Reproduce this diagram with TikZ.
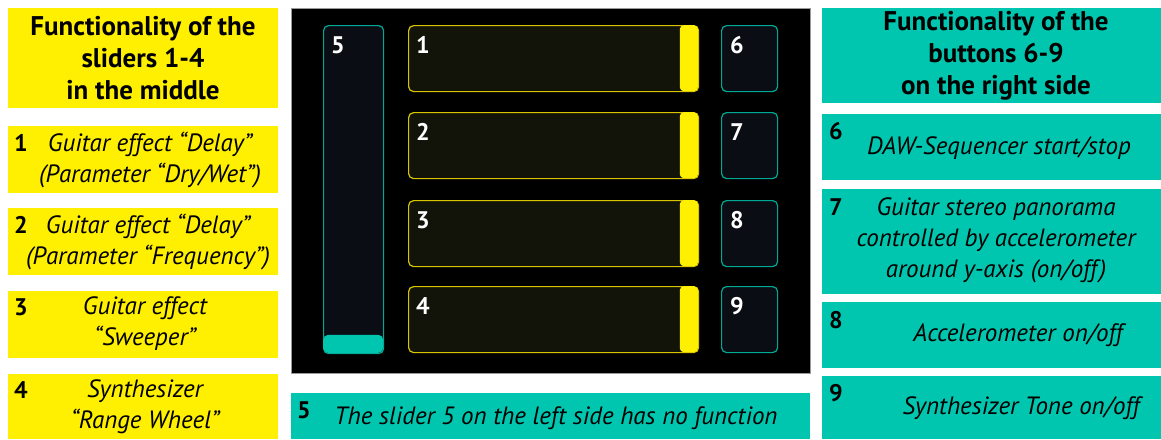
\documentclass[tikz,border=0pt]{standalone}
\usepackage{fontspec}
\setmainfont{PT Sans}
\begin{document}
\begin{tikzpicture}[x=1pt,y=-1pt,
  ybox/.style={fill=myyellow,draw=none,inner sep=0pt,anchor=north west},
  tbox/.style={fill=myteal,draw=none,inner sep=0pt,anchor=north west},
  head/.style={font=\fontsize{27}{32}\selectfont\bfseries,align=center,inner sep=0pt},
  body/.style={font=\fontsize{25}{31}\selectfont\itshape,align=center,inner sep=0pt},
  num/.style={font=\fontsize{24}{26}\selectfont\bfseries,inner sep=0pt},
  pnum/.style={font=\fontsize{24}{26}\selectfont\bfseries,text=white,inner sep=0pt},
  yslider/.style={draw=mydyellow,line width=1.2pt,fill=myolive,rounded corners=5pt},
  tslider/.style={draw=mydteal,line width=1.2pt,fill=mynavy,rounded corners=5pt},
]
\definecolor{myyellow}{HTML}{FFEF00}
\definecolor{myteal}{HTML}{00C6AF}
\definecolor{mydyellow}{HTML}{D8C400}
\definecolor{mydteal}{HTML}{00A896}
\definecolor{myolive}{HTML}{12140A}
\definecolor{mynavy}{HTML}{0A0E14}
\useasboundingbox (0,0) rectangle (1161,439);
\fill[white] (0,0) rectangle (1161,439);

% left column
\node[ybox,minimum width=270pt,minimum height=100pt] (lt) at (8,8) {};
\node[head] (ltt) at (143,58) {Functionality of the\\sliders 1-4\\in the middle};
\node[ybox,minimum width=270pt,minimum height=67pt] (l1) at (8,126) {};
\node[ybox,minimum width=270pt,minimum height=67pt] (l2) at (8,208) {};
\node[ybox,minimum width=270pt,minimum height=67pt] (l3) at (8,291) {};
\node[ybox,minimum width=270pt,minimum height=65pt] (l4) at (8,374) {};
\node[num] (n1) at (21,143) {1};
\node[num] (n2) at (21,225) {2};
\node[num] (n3) at (21,307) {3};
\node[num] (n4) at (21,390) {4};
\node[body] (t1) at (150,160) {Guitar effect “Delay”\\(Parameter “Dry/Wet”)};
\node[body] (t2) at (148,242) {Guitar effect “Delay”\\(Parameter “Frequency”)};
\node[body] (t3) at (145,324) {Guitar effect\\“Sweeper”};
\node[body] (t4) at (145,407) {Synthesizer\\“Range Wheel”};

% middle panel
\node[fill=black,draw=black!40,line width=0.6pt,inner sep=0pt,anchor=north west,minimum width=519pt,minimum height=365pt] (panel) at (291,8) {};
\node[tslider,anchor=north west,minimum width=60pt,minimum height=328pt,inner sep=0pt] (s5) at (323,25) {};
\node[fill=myteal,rounded corners=5pt,anchor=south west,minimum width=60pt,minimum height=18pt,inner sep=0pt] (h5) at (323,353) {};
\node[pnum] (p5) at (338,45) {5};
\foreach \i/\y in {1/25,2/112,3/200,4/286}{
  \node[yslider,anchor=north west,minimum width=290pt,minimum height=66pt,inner sep=0pt] (s\i) at (408,\y) {};
  \node[fill=myyellow,rounded corners=4pt,anchor=north east,minimum width=18pt,minimum height=66pt,inner sep=0pt] (h\i) at (698,\y) {};
  \node[pnum] (p\i) at (423,\y+20) {\i};
}
\foreach \i/\y in {6/25,7/112,8/200,9/286}{
  \node[tslider,anchor=north west,minimum width=56pt,minimum height=66pt,inner sep=0pt] (b\i) at (721,\y) {};
  \node[pnum] (p\i) at (737,\y+20) {\i};
}

% bottom bar
\node[tbox,minimum width=519pt,minimum height=46pt] (bb) at (291,393) {};
\node[num] (n5) at (304,410) {5};
\node[body] (t5) at (556,418) {The slider 5 on the left side has no function};

% right column
\node[tbox,minimum width=339pt,minimum height=95pt] (rt) at (822,8) {};
\node[head] (rtt) at (996,56) {Functionality of the\\buttons 6-9\\on the right side};
\node[tbox,minimum width=339pt,minimum height=66pt] (r6) at (822,114) {};
\node[tbox,minimum width=339pt,minimum height=105pt] (r7) at (822,189) {};
\node[tbox,minimum width=339pt,minimum height=66pt] (r8) at (822,302) {};
\node[tbox,minimum width=339pt,minimum height=63pt] (r9) at (822,376) {};
\node[num] (n6) at (836,131) {6};
\node[num] (n7) at (836,207) {7};
\node[num] (n8) at (836,320) {8};
\node[num] (n9) at (836,393) {9};
\node[body] (t6) at (999,148) {DAW-Sequencer start/stop};
\node[body] (t7) at (996,240) {Guitar stereo panorama\\controlled by accelerometer\\around y-axis (on/off)};
\node[body] (t8) at (1018,335) {Accelerometer on/off};
\node[body] (t9) at (1021,408) {Synthesizer Tone on/off};
\end{tikzpicture}
\end{document}
